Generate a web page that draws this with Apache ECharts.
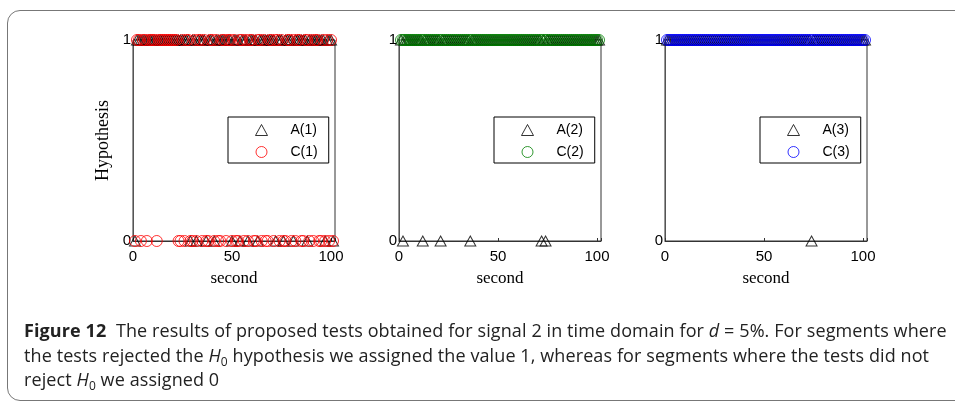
<!DOCTYPE html>
<html>
<head>
<meta charset="utf-8">
<script src="https://cdn.jsdelivr.net/npm/echarts@6/dist/echarts.min.js"></script>
<style>
html,body{margin:0;padding:0;width:955px;height:408px;overflow:hidden;background:#fff;}
#chart{position:absolute;left:0;top:0;width:955px;height:408px;}
#frame{position:absolute;left:7px;top:10px;width:1000px;height:391px;border:1.5px solid #777;border-radius:13px;box-sizing:border-box;}
#caption{position:absolute;left:24px;top:318px;font-family:"Open Sans","Noto Sans",sans-serif;font-size:18px;line-height:24.5px;color:#222;white-space:nowrap;letter-spacing:0.1px;}
#caption i{font-style:italic;}
#caption sub{font-size:12px;vertical-align:-4px;line-height:0;}
</style>
</head>
<body>
<div id="frame"></div>
<div id="chart"></div>
<div id="caption">
<div><b>Figure 12</b>&nbsp; The results of proposed tests obtained for signal 2 in time domain for <i>d</i> = 5%. For segments where</div>
<div>the tests rejected the <i>H</i><sub>0</sub> hypothesis we assigned the value 1, whereas for segments where the tests did not</div>
<div>reject <i>H</i><sub>0</sub> we assigned 0</div>
</div>
<script>
// segment indices (x values, seconds)
const segments = [1,2,3,4,5,6,7,8,9,10,11,12,13,14,15,16,17,18,19,20,21,22,23,24,25,26,27,28,29,30,31,32,33,34,35,36,37,38,39,40,41,42,43,44,45,46,47,48,49,50,51,52,53,54,55,56,57,58,59,60,61,62,63,64,65,66,67,68,69,70,71,72,73,74,75,76,77,78,79,80,81,82,83,84,85,86,87,88,89,90,91,92,93,94,95,96,97,98,99,100,101];
// segments where the hypothesis was NOT rejected (value 0); all others are 1
const A1_zero = [1,29,32,37,41,50,54,58,63,72,76,81,88,97,101];
const C1_zero = [1,4,7,12,23,24,26,29,30,32,35,37,38,41,43,44,47,50,52,53,56,58,61,62,65,67,68,71,74,76,77,80,82,85,86,89,91,94,95,97,99,101];
const A2_zero = [2,12,21,36,72,74];
const C2_zero = [];
const A3_zero = [74];
const C3_zero = [];
const xTicks = [0,50,100];
const yTicks = [0,1];
const panelNames = [['A(1)','C(1)'],['A(2)','C(2)'],['A(3)','C(3)']];
const panelColors = ['#ff0000','#008000','#0000ff'];
const zeroSets = [[A1_zero,C1_zero],[A2_zero,C2_zero],[A3_zero,C3_zero]];

function toData(zeros){ return segments.map(s => [s, zeros.indexOf(s) >= 0 ? 0 : 1]); }

const gridLefts = [133, 399, 665];
const gridW = 202, gridTop = 40, gridH = 201;

const grids=[], xAxes=[], yAxes=[], series=[], legends=[];
for (let i=0;i<3;i++){
  grids.push({left:gridLefts[i], top:gridTop, width:gridW, height:gridH, show:true, borderColor:'#333', borderWidth:1, backgroundColor:'transparent'});
  xAxes.push({gridIndex:i, type:'value', min:0, max:102, interval:50,
    name:'second', nameLocation:'middle', nameGap:29,
    nameTextStyle:{fontFamily:'Liberation Serif', fontSize:17, color:'#000'},
    axisLine:{show:true, lineStyle:{color:'#333', width:1}},
    axisTick:{show:true, inside:true, length:3, lineStyle:{color:'#333'}},
    axisLabel:{fontFamily:'Liberation Sans', fontSize:15, color:'#000', margin:8,
      formatter: v => xTicks.indexOf(v) >= 0 ? String(v) : ''},
    splitLine:{show:false}});
  yAxes.push({gridIndex:i, type:'value', min:0, max:1, interval:1,
    name: i===0 ? 'Hypothesis' : '', nameLocation:'middle', nameGap:21, nameRotate:90,
    nameTextStyle:{fontFamily:'Liberation Serif', fontSize:18, color:'#000'},
    axisLine:{show:true, lineStyle:{color:'#555', width:1}},
    axisTick:{show:false},
    axisLabel:{fontFamily:'Liberation Sans', fontSize:15, color:'#000', margin:2,
      formatter: v => yTicks.indexOf(v) >= 0 ? String(v) : ''},
    splitLine:{show:false}});
  series.push({type:'scatter', name:panelNames[i][0], xAxisIndex:i, yAxisIndex:i,
    data: toData(zeroSets[i][0]), symbol:'triangle', symbolSize:[11,10], clip:false,
    itemStyle:{color:'rgba(0,0,0,0)', borderColor:'#000', borderWidth:1}, emphasis:{disabled:true}});
  series.push({type:'scatter', name:panelNames[i][1], xAxisIndex:i, yAxisIndex:i,
    data: toData(zeroSets[i][1]), symbol:'circle', symbolSize:11, clip:false,
    itemStyle:{color:'rgba(0,0,0,0)', borderColor:panelColors[i], borderWidth:1}, emphasis:{disabled:true}});
  legends.push({data:panelNames[i], orient:'vertical', left: gridLefts[i] + gridW - 8 - 99, top:117,
    itemWidth:12, itemHeight:11, itemGap:6, padding:[5,11,3,27],
    itemStyle:{borderWidth:1},
    borderColor:'#000', borderWidth:1, backgroundColor:'#fff', selectedMode:false,
    textStyle:{fontFamily:'Liberation Sans', fontSize:14, color:'#000', lineHeight:16, padding:[0,0,0,18]}});
}

const chart = echarts.init(document.getElementById('chart'), null, {renderer:'canvas'});
chart.setOption({animation:false, grid:grids, xAxis:xAxes, yAxis:yAxes, series:series, legend:legends});
</script>
</body>
</html>
